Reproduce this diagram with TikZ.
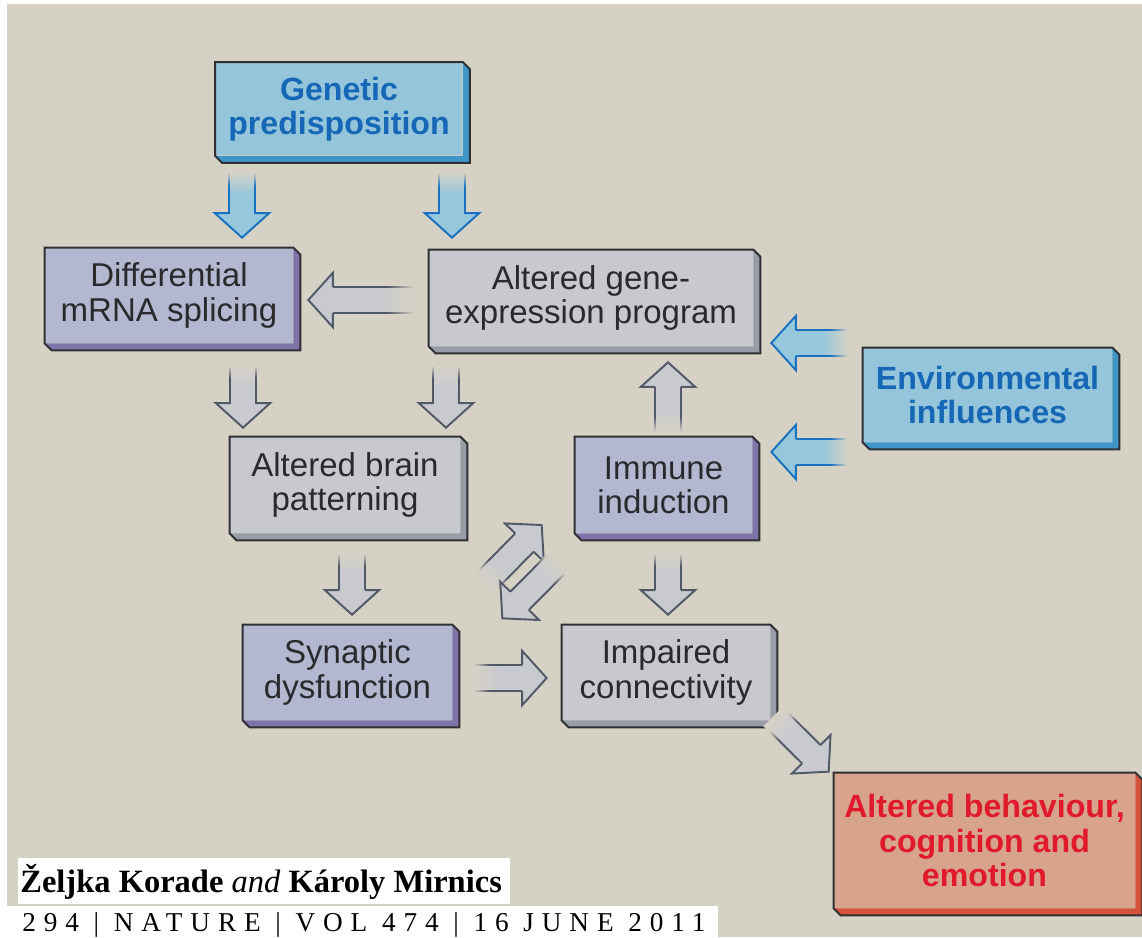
\documentclass[tikz,border=0pt]{standalone}
\usepackage{fontspec}
\setmainfont{Liberation Serif}
\setsansfont{Liberation Sans}
\newfontfamily\footfont[LetterSpace=29]{Liberation Serif}
\usetikzlibrary{calc}

\definecolor{paper}{HTML}{D5D2C5}
\definecolor{grayface}{HTML}{C8C9CF}
\definecolor{grayside}{HTML}{989CA6}
\definecolor{lilacface}{HTML}{B3B7D0}
\definecolor{lilacside}{HTML}{7E74A8}
\definecolor{blueface}{HTML}{94C5DA}
\definecolor{blueside}{HTML}{3D95C8}
\definecolor{redface}{HTML}{D7A38D}
\definecolor{redside}{HTML}{D4513A}
\definecolor{boxline}{HTML}{2F3033}
\definecolor{darktext}{HTML}{2A2A2E}
\definecolor{bluetext}{HTML}{1667B6}
\definecolor{redtext}{HTML}{E01A2C}
\definecolor{arrowgray}{HTML}{C9CACF}
\definecolor{arrowline}{HTML}{515867}
\definecolor{arrowblue}{HTML}{95C7DD}
\definecolor{arrowblueline}{HTML}{1A72BE}

% arrow tails run out into the paper colour
% (only 25bp..75bp of a shading lands on the path)
\pgfdeclarehorizontalshading{grayfill}{100bp}{color(0bp)=(paper); color(25bp)=(paper);
  color(42bp)=(arrowgray); color(100bp)=(arrowgray)}
\pgfdeclarehorizontalshading{grayedge}{100bp}{color(0bp)=(paper); color(25bp)=(paper);
  color(42bp)=(arrowline); color(100bp)=(arrowline)}
\pgfdeclarehorizontalshading{bluefill}{100bp}{color(0bp)=(paper); color(25bp)=(paper);
  color(42bp)=(arrowblue); color(100bp)=(arrowblue)}
\pgfdeclarehorizontalshading{blueedge}{100bp}{color(0bp)=(paper); color(25bp)=(paper);
  color(42bp)=(arrowblueline); color(100bp)=(arrowblueline)}

% block arrow, tail at #2, tip at #3
\newcommand\blockarrow[3][grayarrow]{%
  \begin{scope}[#1]
  \path (#2) coordinate (ba-t) (#3) coordinate (ba-p) ($(ba-p)!14pt!(ba-t)$) coordinate (ba-h);
  \path let \p1=($(ba-p)-(ba-t)$) in \pgfextra{\pgfmathparse{atan2(\y1,\x1)}\xdef\baang{\pgfmathresult}};
  % body
  \shade[shading=\bafill, shading angle=\baang] ($(ba-t)!7.4pt!90:(ba-p)$) -- ($(ba-h)!7.4pt!90:(ba-p)$)
    -- ($(ba-h)!15.5pt!90:(ba-p)$) -- (ba-p) -- ($(ba-h)!15.5pt!-90:(ba-p)$)
    -- ($(ba-h)!7.4pt!-90:(ba-p)$) -- ($(ba-t)!7.4pt!-90:(ba-p)$) -- cycle;
  % head outline
  \draw[draw=\baline, line width=1.1pt] ($(ba-h)!7.4pt!90:(ba-p)$) -- ($(ba-h)!15.5pt!90:(ba-p)$)
    -- (ba-p) -- ($(ba-h)!15.5pt!-90:(ba-p)$) -- ($(ba-h)!7.4pt!-90:(ba-p)$);
  % shaft edges, fading out towards the tail
  \foreach \r in {90,-90}
    \shade[shading=\baedge, shading angle=\baang] ($(ba-t)!6.85pt!\r:(ba-p)$) -- ($(ba-h)!6.85pt!\r:(ba-p)$)
      -- ($(ba-h)!7.95pt!\r:(ba-p)$) -- ($(ba-t)!7.95pt!\r:(ba-p)$) -- cycle;
  \end{scope}
}

\tikzset{
  box/.style={rectangle, inner sep=0pt, align=center, text=darktext,
    font=\sffamily\fontsize{18.8}{19.5}\selectfont},
  graybox/.style={box, fill=grayface},
  lilacbox/.style={box, fill=lilacface},
  bluebox/.style={box, fill=blueface, text=bluetext,
    font=\sffamily\bfseries\fontsize{18.3}{19.5}\selectfont},
  redbox/.style={box, fill=redface, text=redtext,
    font=\sffamily\bfseries\fontsize{18.3}{19.5}\selectfont},
  edge line/.style={draw=boxline, line width=1.1pt, line join=miter},
  grayarrow/.code={\def\bafill{grayfill}\def\baedge{grayedge}\def\baline{arrowline}},
  bluearrow/.code={\def\bafill{bluefill}\def\baedge{blueedge}\def\baline{arrowblueline}},
}

\begin{document}
\begin{tikzpicture}[x=0.02cm, y=-0.02cm]

  % paper and footer strips
  \useasboundingbox (0,0) rectangle (1142,937);
  \fill[white] (0,0) rectangle (1142,937);
  \fill[paper] (7,4) rectangle (1142,937);
  \fill[white] (18,858) rectangle (510,904);
  \fill[white] (0,906) rectangle (718,937);

  % Boxes
  \node[bluebox, minimum width=4.94cm, minimum height=1.86cm] (gen) at (339,109) {Genetic\\predisposition};
  \node[lilacbox, minimum width=4.96cm, minimum height=1.9cm] (splice) at (169,295.5) {Differential\\mRNA splicing};
  \node[graybox, minimum width=6.48cm, minimum height=1.92cm] (expr) at (591,298) {Altered gene-\\expression program};
  \node[graybox, minimum width=4.6cm, minimum height=1.92cm] (brain) at (345,485) {Altered brain\\patterning};
  \node[lilacbox, minimum width=3.54cm, minimum height=1.92cm] (immune) at (663.5,485) {Immune\\induction};
  \node[lilacbox, minimum width=4.18cm, minimum height=1.9cm] (syn) at (347.5,672.5) {Synaptic\\dysfunction};
  \node[graybox, minimum width=4.16cm, minimum height=1.9cm] (conn) at (666,672.5) {Impaired\\connectivity};
  \node[bluebox, minimum width=4.98cm, minimum height=1.88cm] (env) at (987.5,395) {Environmental\\influences};
  \node[redbox, minimum width=6.02cm, minimum height=2.7cm] (behav) at (984.5,840.5) {Altered behaviour,\\cognition and\\emotion};

  % raised edges
  \foreach \n/\col in {gen/blue, splice/lilac, expr/gray, brain/gray, immune/lilac,
                       syn/lilac, conn/gray, env/blue, behav/red}{
    \fill[fill=\col side] (\n.north east) -- ++(4pt,-4pt) |- ($(\n.south west)+(4pt,-4pt)$)
      -- (\n.south west) -- (\n.south east) -- cycle;
    \draw[edge line] (\n.north west) -- (\n.north east) -- ++(4pt,-4pt)
      |- ($(\n.south west)+(4pt,-4pt)$) -- (\n.south west) -- cycle;
  }

  % Arrows
  \blockarrow[bluearrow]{$(gen.south)+(-97,16.5)$}{$(splice.north)+(73,-10)$}
  \blockarrow[bluearrow]{$(gen.south)+(113,16.5)$}{$(expr.north)+(-139,-12)$}
  \blockarrow{$(expr.west)+(-14,2)$}{$(splice.east)+(15,4.5)$}
  \blockarrow{$(splice.south)+(74,22)$}{$(brain.north)+(-102,-9)$}
  \blockarrow{$(expr.south)+(-145,19)$}{$(brain.north)+(101,-9)$}
  \blockarrow{$(immune.north)+(4.5,-5)$}{$(expr.south)+(77,16)$}
  \blockarrow[bluearrow]{$(env.west)+(-15,-52)$}{$(expr.east)+(18,45)$}
  \blockarrow[bluearrow]{$(env.west)+(-15,57)$}{$(immune.east)+(19,-33)$}
  \blockarrow{$(brain.south)+(7,20)$}{$(syn.north)+(4.5,-10)$}
  \blockarrow{$(immune.south)+(4.5,20)$}{$(conn.north)+(2,-10)$}
  \blockarrow{$(syn.east)+(21,5.5)$}{$(conn.west)+(-15,5.5)$}
  \blockarrow{$(brain.south east)+(22,52)$}{$(immune.west)+(-33,40)$}
  \blockarrow{$(immune.south west)+(-13,25)$}{$(brain.south east)+(42,85)$}
  \blockarrow{$(conn.south east)+(3,-4)$}{$(behav.north west)+(-5,-1)$}

  % footer
  \node[anchor=west, inner sep=0pt, font=\fontsize{18.5}{20}\selectfont\bfseries] (authors) at (20,882)
    {Željka Korade \textmd{\textit{and}} Károly Mirnics};
  \node[anchor=west, inner sep=0pt, font=\footfont\fontsize{15.5}{17}\selectfont] (issue) at (22,925)
    {294 | NATURE | VOL 474 | 16 JUNE 2011};

\end{tikzpicture}
\end{document}
